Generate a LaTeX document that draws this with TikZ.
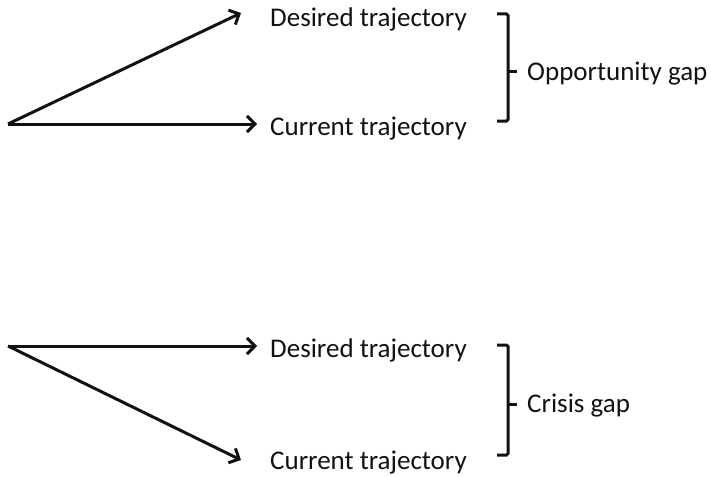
\documentclass[tikz,border=0pt]{standalone}
\usepackage{fontspec}
\setmainfont{Carlito}
\usepackage{xcolor}
\usepackage{tikz}
\usetikzlibrary{arrows.meta,positioning,calc}
\definecolor{gink}{HTML}{111111}
\tikzset{
  traj/.style={draw=gink,line width=3pt,-{Straight Barb[length=8pt,width=16pt,line width=3pt]}},
  lbl/.style={anchor=base west,inner sep=0pt,font=\fontsize{27}{30}\selectfont,text=gink},
  gapbrace/.style={draw=gink,line width=3pt,rounded corners=1.5pt}
}
\begin{document}
\begin{tikzpicture}[x=1pt,y=-1pt]
  \useasboundingbox (0,0) rectangle (711,476);
  % opportunity: desired above current
  \coordinate (o1) at (8,124);
  \coordinate (tipD1) at (241,13);
  \coordinate (tipC1) at (257,124);
  \node[lbl] (des1) at (270,27) {Desired trajectory};
  \node[lbl] (cur1) at (270,135) {Current trajectory};
  \draw[traj] (o1) -- (tipD1);
  \draw[traj] (o1) -- (tipC1);
  \coordinate (bt1) at (497,14);
  \coordinate (bb1) at (497,121);
  \draw[gapbrace] (bt1) -- ++(11,0) |- (bb1);
  \node[lbl] (gap1) at (527,81) {Opportunity gap};
  \draw[gink,line width=3pt] ($(gap1.base west)+(-19,-9)$) -- ($(gap1.base west)+(-10,-9)$);
  % crisis: current below desired
  \coordinate (o2) at (8,346);
  \coordinate (tipD2) at (257,346);
  \coordinate (tipC2) at (241,460);
  \node[lbl] (des2) at (270,357) {Desired trajectory};
  \node[lbl] (cur2) at (270,469) {Current trajectory};
  \draw[traj] (o2) -- (tipD2);
  \draw[traj] (o2) -- (tipC2);
  \coordinate (bt2) at (497,345);
  \coordinate (bb2) at (497,455);
  \draw[gapbrace] (bt2) -- ++(11,0) |- (bb2);
  \node[lbl] (gap2) at (527,412) {Crisis gap};
  \draw[gink,line width=3pt] ($(gap2.base west)+(-19,-8)$) -- ($(gap2.base west)+(-10,-8)$);
\end{tikzpicture}
\end{document}
